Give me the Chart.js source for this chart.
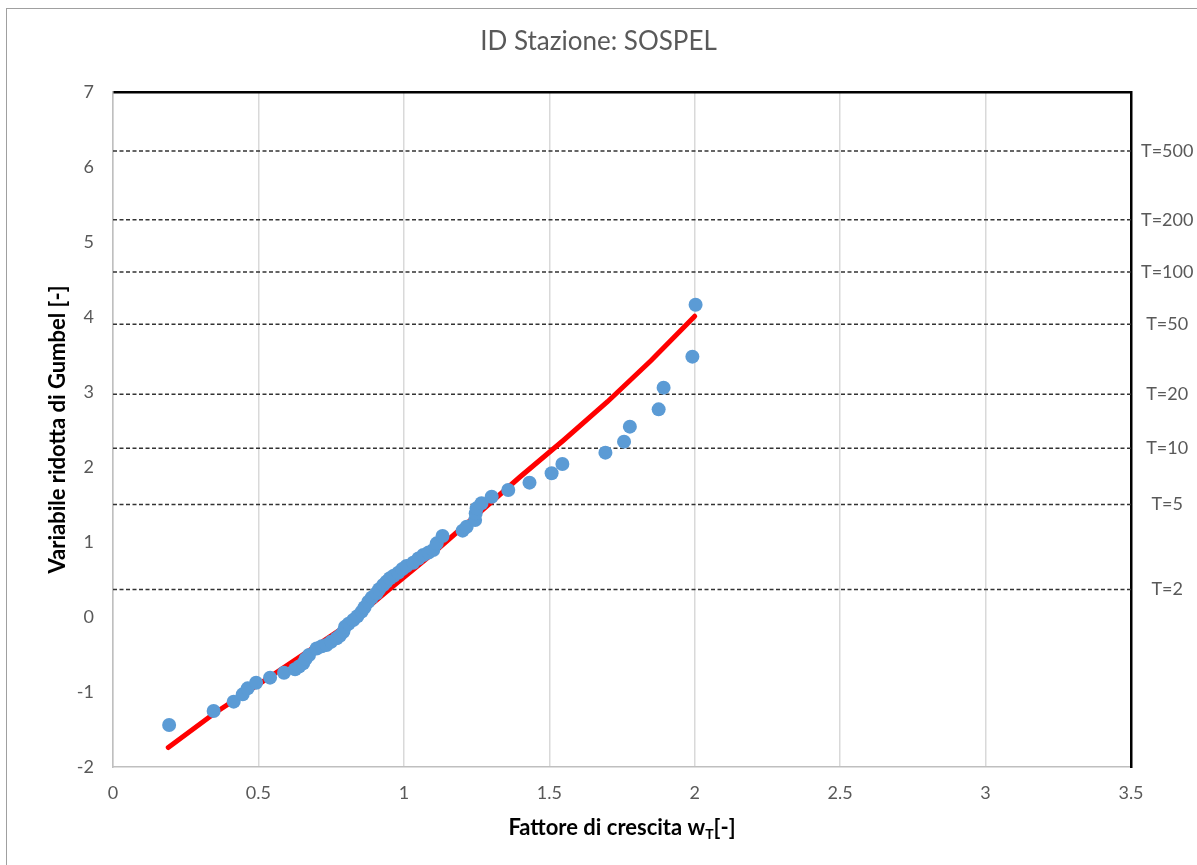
<!DOCTYPE html>
<html>
<head>
<meta charset="utf-8">
<script src="https://cdn.jsdelivr.net/npm/chart.js@4.4.0/dist/chart.umd.min.js"></script>
<style>
  body { margin: 0; background: #fff; overflow: hidden; }
  #wrap { position: relative; width: 1197px; height: 865px; }
  #frame { position: absolute; left: 6px; top: 8px; width: 1300px; height: 1000px;
           border-left: 1px solid #a0a0a0; border-top: 1px solid #a0a0a0; pointer-events: none; }
  canvas { position: absolute; left: 0; top: 0; }
</style>
</head>
<body>
<div id="wrap">
  <canvas id="grafico" width="1197" height="865"></canvas>
  <div id="frame"></div>
</div>
<script>
// osservazioni: fattore di crescita (x) vs variabile ridotta di Gumbel (y)
const osservatiX = [0.193, 0.346, 0.415, 0.446, 0.463, 0.492, 0.540, 0.588, 0.626, 0.640,
  0.654, 0.662, 0.674, 0.700, 0.718, 0.734, 0.750, 0.769, 0.780, 0.792,
  0.798, 0.810, 0.826, 0.840, 0.855, 0.865, 0.878, 0.890, 0.906, 0.915,
  0.929, 0.940, 0.952, 0.965, 0.981, 0.995, 1.009, 1.032, 1.050, 1.067,
  1.085, 1.101, 1.113, 1.133, 1.202, 1.216, 1.245, 1.247, 1.250, 1.267,
  1.302, 1.359, 1.432, 1.508, 1.545, 1.693, 1.757, 1.777, 1.876, 1.893,
  1.992, 2.003];
const osservatiY = [-1.44, -1.253, -1.129, -1.031, -0.951, -0.876, -0.809, -0.743, -0.697, -0.66,
  -0.618, -0.56, -0.507, -0.42, -0.39, -0.373, -0.33, -0.284, -0.25, -0.196,
  -0.13, -0.09, -0.04, 0.01, 0.071, 0.13, 0.204, 0.26, 0.316, 0.37,
  0.427, 0.47, 0.516, 0.55, 0.591, 0.64, 0.68, 0.724, 0.78, 0.827,
  0.86, 0.893, 0.982, 1.08, 1.151, 1.204, 1.293, 1.382, 1.449, 1.516,
  1.604, 1.693, 1.791, 1.916, 2.04, 2.191, 2.338, 2.538, 2.769, 3.058,
  3.471, 4.164];

// curva teorica (rossa)
const curvaX = [0.19, 0.35, 0.5, 0.65, 0.8, 0.95, 1.1, 1.25, 1.4, 1.55, 1.7, 1.85, 2.0];
const curvaY = [-1.74, -1.28, -0.9, -0.51, -0.12, 0.37, 0.85, 1.36, 1.87, 2.36, 2.87, 3.42, 4.01];

// tempi di ritorno e relative variabili ridotte
const tempiRitorno = ['T=2', 'T=5', 'T=10', 'T=20', 'T=50', 'T=100', 'T=200', 'T=500'];
const yRitorno = [0.367, 1.500, 2.250, 2.970, 3.902, 4.600, 5.296, 6.214];

const FONT = 'Lato, sans-serif';
const GRIGIO = '#595959';

// titolo asse x con pedice
const titoloAsseX = {
  id: 'titoloAsseX',
  afterDraw(chart) {
    const { ctx, chartArea } = chart;
    const cx = (chartArea.left + chartArea.right) / 2;
    const cy = 828;
    ctx.save();
    ctx.fillStyle = '#000';
    ctx.textBaseline = 'middle';
    ctx.textAlign = 'left';
    ctx.font = 'bold 22px ' + FONT;
    const p1 = 'Fattore di crescita w', p3 = '[-]';
    const w1 = ctx.measureText(p1).width, w3 = ctx.measureText(p3).width;
    ctx.font = 'bold 14px ' + FONT;
    const w2 = ctx.measureText('T').width;
    let x = cx - (w1 + w2 + w3) / 2;
    ctx.font = 'bold 22px ' + FONT;
    ctx.fillText(p1, x, cy);
    x += w1;
    ctx.font = 'bold 14px ' + FONT;
    ctx.fillText('T', x, cy + 6);
    x += w2;
    ctx.font = 'bold 22px ' + FONT;
    ctx.fillText(p3, x, cy);
    ctx.restore();
  }
};

const datasets = [
  {
    type: 'scatter',
    data: osservatiX.map((x, i) => ({ x, y: osservatiY[i] })),
    backgroundColor: '#5B9BD5',
    borderWidth: 0,
    pointRadius: 7,
    order: 0
  },
  {
    type: 'line',
    data: curvaX.map((x, i) => ({ x, y: curvaY[i] })),
    borderColor: '#FF0000',
    borderWidth: 5,
    pointRadius: 0,
    borderCapStyle: 'round',
    fill: false,
    order: 1
  }
];
yRitorno.forEach(v => {
  datasets.push({
    type: 'line',
    data: [{ x: 0, y: v }, { x: 3.5, y: v }],
    borderColor: '#333333',
    borderWidth: 1.5,
    borderDash: [4, 2.5],
    pointRadius: 0,
    fill: false,
    order: 2
  });
});

new Chart(document.getElementById('grafico'), {
  data: { datasets },
  plugins: [titoloAsseX],
  options: {
    responsive: false,
    animation: false,
    layout: { padding: { left: 0, right: 0, top: 0, bottom: 0 } },
    plugins: {
      legend: { display: false },
      tooltip: { enabled: false },
      title: {
        display: true,
        text: 'ID Stazione: SOSPEL',
        color: GRIGIO,
        font: { family: FONT, size: 26, weight: 'normal', lineHeight: 1.2 },
        padding: { top: 26.4, bottom: 34.4 }
      }
    },
    scales: {
      x: {
        type: 'linear',
        position: 'bottom',
        min: 0, max: 3.5,
        ticks: {
          stepSize: 0.5, color: GRIGIO, font: { family: FONT, size: 18 }, padding: 15, maxRotation: 0,
          callback: v => String(v)
        },
        grid: { color: '#d9d9d9', lineWidth: 1.5, drawTicks: false },
        border: { color: '#bfbfbf', width: 1.5 },
        afterFit(s) { s.height = 98; }
      },
      xTop: {
        type: 'linear',
        position: 'top',
        min: 0, max: 3.5,
        ticks: { display: false },
        grid: { display: false, drawTicks: false },
        border: { color: '#000', width: 2.5 },
        afterFit(s) { s.height = 0; }
      },
      y: {
        type: 'linear',
        position: 'left',
        min: -2, max: 7,
        ticks: { stepSize: 1, color: GRIGIO, font: { family: FONT, size: 18 }, padding: 19 },
        grid: { display: false, drawTicks: false },
        border: { color: '#bfbfbf', width: 1.5 },
        title: {
          display: true,
          text: 'Variabile ridotta di Gumbel [-]',
          color: '#000',
          font: { family: FONT, size: 22, weight: 'bold', lineHeight: 1.2 },
          padding: { top: 45, bottom: 0 }
        },
        afterFit(s) { s.width = 113; }
      },
      yT: {
        type: 'linear',
        position: 'right',
        min: -2, max: 7,
        afterBuildTicks(s) { s.ticks = yRitorno.map(v => ({ value: v })); },
        ticks: {
          color: GRIGIO,
          font: { family: FONT, size: 18 },
          padding: 10,
          crossAlign: 'center',
          callback: (v, i) => tempiRitorno[i]
        },
        grid: { display: false, drawTicks: false },
        border: { color: '#000', width: 2.5 },
        afterFit(s) { s.width = 66; }
      }
    }
  }
});
</script>
</body>
</html>
